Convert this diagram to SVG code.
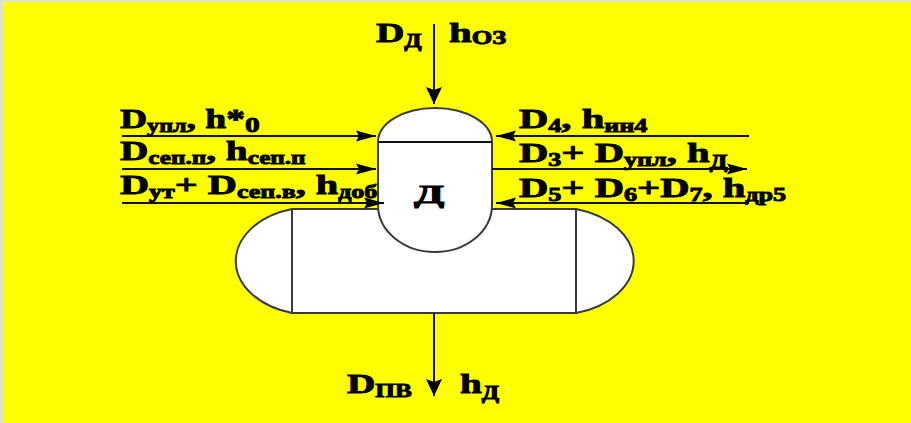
<svg xmlns="http://www.w3.org/2000/svg" width="911" height="423" viewBox="0 0 911 423">
<defs>
<style>
.ln{fill:none;stroke:#111;stroke-width:2}
.v{fill:#fff;stroke:#3a3a3a;stroke-width:2}
.t{font-family:"Liberation Serif",serif;font-size:28px;font-weight:bold;fill:#000;stroke:#000;stroke-width:.9}
.s{font-size:18px}
.z{font-size:22px}
</style>
<marker id="a" markerUnits="userSpaceOnUse" markerWidth="21" markerHeight="12" refX="20" refY="6" orient="auto"><path d="M0 .5L20 6L0 11.500L3 6Z" fill="#000"/></marker>
<marker id="b" markerUnits="userSpaceOnUse" markerWidth="18" markerHeight="16" refX="17" refY="8" orient="auto"><path d="M0 0L17 8L0 16L3 8Z" fill="#000"/></marker>
</defs>
<rect x="0" y="0" width="911" height="423" fill="#dfe3c8"/>
<rect x="3" y="2" width="908" height="421" fill="#ff0"/>
<g id="drum">
<path class="v" d="M292 209A77 54 0 0 0 292 313Z"/>
<path class="v" d="M576 209A79 54 0 0 1 576 313Z"/>
<path class="v" d="M292 209H576V313H292Z"/>
</g>
<g id="deaerator">
<path class="v" d="M378 142A57 34 0 0 1 492 142V205A57 47 0 0 1 378 205Z"/>
<path class="ln" d="M378 142H492"/>
<text class="t" transform="translate(414 203) scale(1.7 1)" style="font-size:26px">Д</text>
</g>
<g id="connectors">
<path class="ln" d="M434 24V104" marker-end="url(#b)"/>
<path class="ln" d="M122 136H376" marker-end="url(#a)"/>
<path class="ln" d="M122 169H376" marker-end="url(#a)"/>
<path class="ln" d="M122 203H384" marker-end="url(#a)"/>
<path class="ln" d="M749 136H496" marker-end="url(#a)"/>
<path class="ln" d="M492 169H747" marker-end="url(#a)"/>
<path class="ln" d="M749 203H496" marker-end="url(#a)"/>
<path class="ln" d="M434 313V396" marker-end="url(#b)"/>
</g>
<g id="labels">
<text class="t" transform="translate(376 42) scale(1.4 1)">D<tspan class="s" dy="5">Д</tspan></text>
<text class="t" transform="translate(449 42) scale(1.46 1)">h<tspan class="s" dy="2">ОЗ</tspan></text>
<text class="t" transform="translate(120 128) scale(1.34 1)">D<tspan class="s" dy="4">упл</tspan><tspan dy="-4">, h*</tspan><tspan class="z" dy="4">0</tspan></text>
<text class="t" transform="translate(120 160) scale(1.4 1)">D<tspan class="s" dy="4">сеп.п</tspan><tspan dy="-4">, h</tspan><tspan class="s" dy="4">сеп.п</tspan></text>
<text class="t" transform="translate(120 194) scale(1.44 1)">D<tspan class="s" dy="4">ут</tspan><tspan dy="-4">+ D</tspan><tspan class="s" dy="4">сеп.в</tspan><tspan dy="-4">, h</tspan><tspan class="s" dy="4">доб</tspan></text>
<text class="t" transform="translate(519 128) scale(1.45 1)">D<tspan class="s" dy="4">4</tspan><tspan dy="-4">, h</tspan><tspan class="s" dy="4">ин4</tspan></text>
<text class="t" transform="translate(519 162) scale(1.45 1)">D<tspan class="s" dy="4">3</tspan><tspan dy="-4">+ D</tspan><tspan class="s" dy="4">упл</tspan><tspan dy="-4">, h</tspan><tspan class="s" dy="6">Д</tspan></text>
<text class="t" transform="translate(519 197) scale(1.45 1)">D<tspan class="s" dy="4">5</tspan><tspan dy="-4">+ D</tspan><tspan class="s" dy="4">6</tspan><tspan dy="-4">+D</tspan><tspan class="s" dy="4">7</tspan><tspan dy="-4">, h</tspan><tspan class="s" dy="4">др5</tspan></text>
<text class="t" transform="translate(347 393) scale(1.4 1)">D<tspan class="s" dy="4">ПВ</tspan></text>
<text class="t" transform="translate(460 393) scale(1.4 1)">h<tspan class="s" dy="6">Д</tspan></text>
</g>
</svg>
